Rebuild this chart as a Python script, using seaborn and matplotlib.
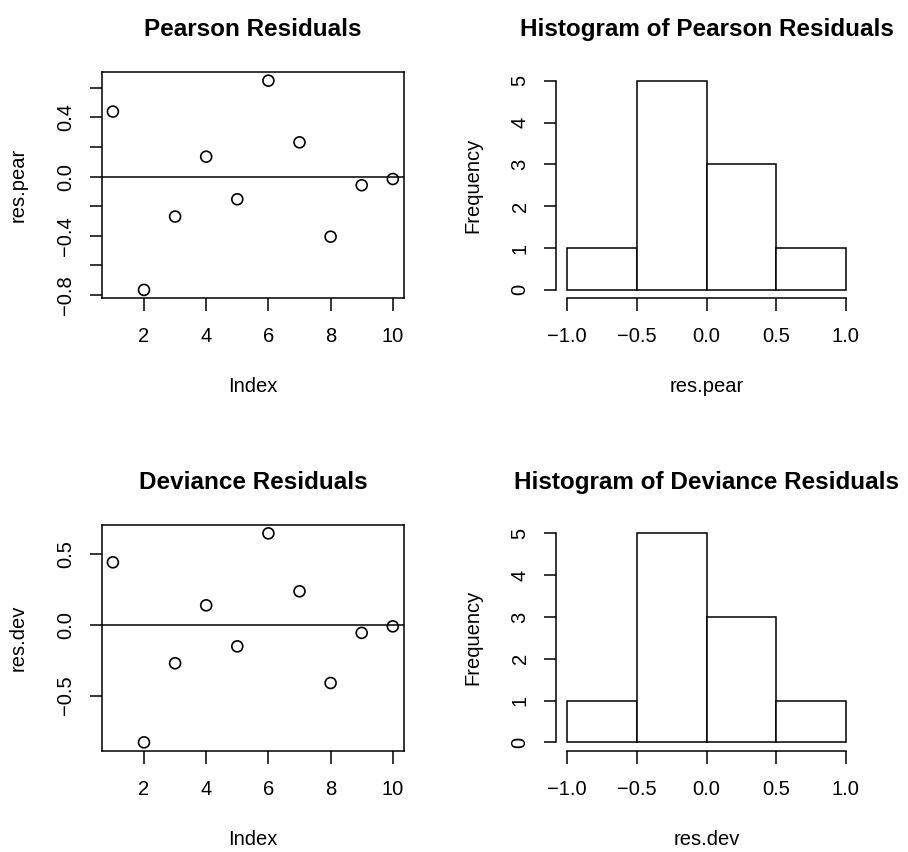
import numpy as np
import matplotlib
matplotlib.use("Agg")
import matplotlib.pyplot as plt
import seaborn as sns

# residuals
idx = np.arange(1, 11)
res_pear = [0.44, -0.766, -0.27, 0.135, -0.153, 0.649, 0.232, -0.406, -0.058, -0.016]
res_dev = [0.439, -0.829, -0.272, 0.136, -0.153, 0.643, 0.235, -0.411, -0.058, -0.012]
bins = [-1.0, -0.5, 0.0, 0.5, 1.0]

sns.set_style("white")
plt.rcParams['font.family'] = ['Liberation Sans', 'DejaVu Sans']
plt.rcParams['axes.unicode_minus'] = True
plt.rcParams['text.color'] = 'black'
plt.rcParams['axes.labelcolor'] = 'black'
plt.rcParams['xtick.color'] = 'black'
plt.rcParams['ytick.color'] = 'black'

fs = 14.5
tfs = 17.5
lw = 1.1
W, H = 908, 852
fig = plt.figure(figsize=(W / 100, H / 100), dpi=100)


def box(left, top, right, bottom):
    return [left / W, 1 - bottom / H, (right - left) / W, (bottom - top) / H]


def pad_lim(vals):
    lo, hi = min(vals), max(vals)
    d = (hi - lo) * 0.04
    return lo - d, hi + d


def scatter_panel(ax, y, title, ylab, ticks, labels):
    sns.scatterplot(x=idx, y=y, ax=ax, marker='o', s=62, facecolor='none',
                    edgecolor='black', linewidth=1.2)
    ax.axhline(0, color='black', lw=lw)
    ax.set_xlim(pad_lim(idx))
    ax.set_ylim(pad_lim(y))
    ax.set_xticks([2, 4, 6, 8, 10])
    ax.set_yticks(ticks)
    ax.set_yticklabels(labels)
    for s in ax.spines.values():
        s.set_visible(True)
        s.set_color('black')
        s.set_linewidth(lw)
    ax.set_title(title, fontsize=tfs, fontweight='bold', pad=26, color='black')
    ax.set_xlabel('Index', fontsize=fs)
    ax.set_ylabel(ylab, fontsize=fs)


def hist_panel(ax, y, title, xlab):
    sns.histplot(x=y, bins=bins, ax=ax, color='white', edgecolor='black',
                 linewidth=lw, alpha=1.0)
    ax.set_xlim(-1.08, 1.08)
    ax.set_ylim(-0.2, 5.2)
    ax.set_xticks([-1.0, -0.5, 0.0, 0.5, 1.0])
    ax.set_xticklabels(['\u22121.0', '\u22120.5', '0.0', '0.5', '1.0'])
    ax.set_yticks([0, 1, 2, 3, 4, 5])
    ax.spines['top'].set_visible(False)
    ax.spines['right'].set_visible(False)
    ax.spines['left'].set_bounds(0, 5)
    ax.spines['bottom'].set_bounds(-1, 1)
    for s in ['left', 'bottom']:
        ax.spines[s].set_color('black')
        ax.spines[s].set_linewidth(lw)
    ax.set_title(title, fontsize=tfs, fontweight='bold', pad=26, color='black')
    ax.set_xlabel(xlab, fontsize=fs)
    ax.set_ylabel('Frequency', fontsize=fs)


def style_ticks(ax):
    ax.tick_params(axis='both', direction='out', length=9, width=lw,
                   color='black', labelsize=fs, labelcolor='black',
                   bottom=True, left=True)
    ax.tick_params(axis='x', pad=12)
    ax.tick_params(axis='y', pad=10, labelrotation=90)
    for t in ax.get_yticklabels():
        t.set_verticalalignment('center')
    ax.xaxis.set_label_coords(0.5, -0.35)
    ax.yaxis.set_label_coords(-0.245, 0.5)


ax1 = fig.add_axes(box(101.7, 72.3, 404, 298.3))
scatter_panel(ax1, res_pear, 'Pearson Residuals', 'res.pear',
              [-0.8, -0.6, -0.4, -0.2, 0.0, 0.2, 0.4, 0.6],
              ['\u22120.8', '', '\u22120.4', '', '0.0', '', '0.4', ''])
style_ticks(ax1)

ax2 = fig.add_axes(box(556, 72.3, 857, 298.3))
hist_panel(ax2, res_pear, 'Histogram of Pearson Residuals', 'res.pear')
style_ticks(ax2)

ax3 = fig.add_axes(box(101.7, 525, 404, 750.7))
scatter_panel(ax3, res_dev, 'Deviance Residuals', 'res.dev',
              [-0.5, 0.0, 0.5], ['\u22120.5', '0.0', '0.5'])
style_ticks(ax3)

ax4 = fig.add_axes(box(556, 525, 857, 750.7))
hist_panel(ax4, res_dev, 'Histogram of Deviance Residuals', 'res.dev')
style_ticks(ax4)

fig.savefig('out.png', dpi=100, facecolor='white')
